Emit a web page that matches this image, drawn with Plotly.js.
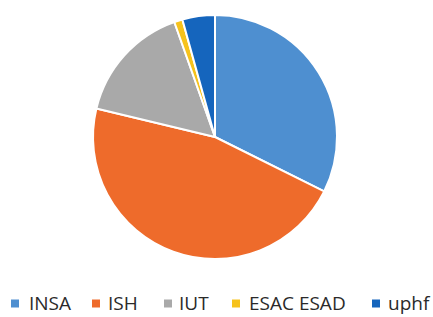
<!DOCTYPE html>
<html><head><meta charset="utf-8">
<script src="https://cdn.plot.ly/plotly-3.0.1.min.js"></script>
<style>html,body{margin:0;padding:0;background:#fff}</style>
</head><body><div id="chart" style="width:433px;height:317px"></div>
<script>
const labels = ["INSA", "ISH", "IUT", "ESAC ESAD", "uphf"];
const values = [32.3, 46.3, 15.8, 1.1, 4.3];
const colors = ["#4E8FD0", "#EE6B2B", "#A9A9A9", "#F6C21C", "#1565BD"];

const W = 433, H = 317;
// legend layout (pixels): marker centres and text starts
const markerX = [15, 96, 168, 236, 376];
const textX = [28, 107, 178, 248, 387];
const legY = 302.5, sq = 8;

const shapes = [], annotations = [];
labels.forEach((lab, i) => {
  shapes.push({type: "rect", xref: "paper", yref: "paper",
    x0: (markerX[i] - sq / 2) / W, x1: (markerX[i] + sq / 2) / W,
    y0: (H - legY - 1 - sq / 2) / H, y1: (H - legY - 1 + sq / 2) / H,
    fillcolor: colors[i], line: {width: 0}});
  annotations.push({text: lab, xref: "paper", yref: "paper",
    x: textX[i] / W, xanchor: "left", y: (H - legY) / H, yanchor: "middle",
    showarrow: false, borderpad: 0,
    font: {family: "'Open Sans', sans-serif", size: 19, color: "#2a2a2a"}});
});

Plotly.newPlot("chart", [{
  type: "pie",
  labels: labels,
  values: values,
  sort: false,
  direction: "clockwise",
  rotation: 0,
  textinfo: "none",
  hoverinfo: "label+value",
  marker: {colors: colors, line: {color: "#ffffff", width: 2}},
  domain: {x: [0.2148, 0.7783], y: [0.183, 0.9527]}
}], {
  width: W, height: H,
  margin: {l: 0, r: 0, t: 0, b: 0},
  paper_bgcolor: "#ffffff",
  showlegend: false,
  shapes: shapes,
  annotations: annotations
}, {displayModeBar: false, staticPlot: true});
</script></body></html>
